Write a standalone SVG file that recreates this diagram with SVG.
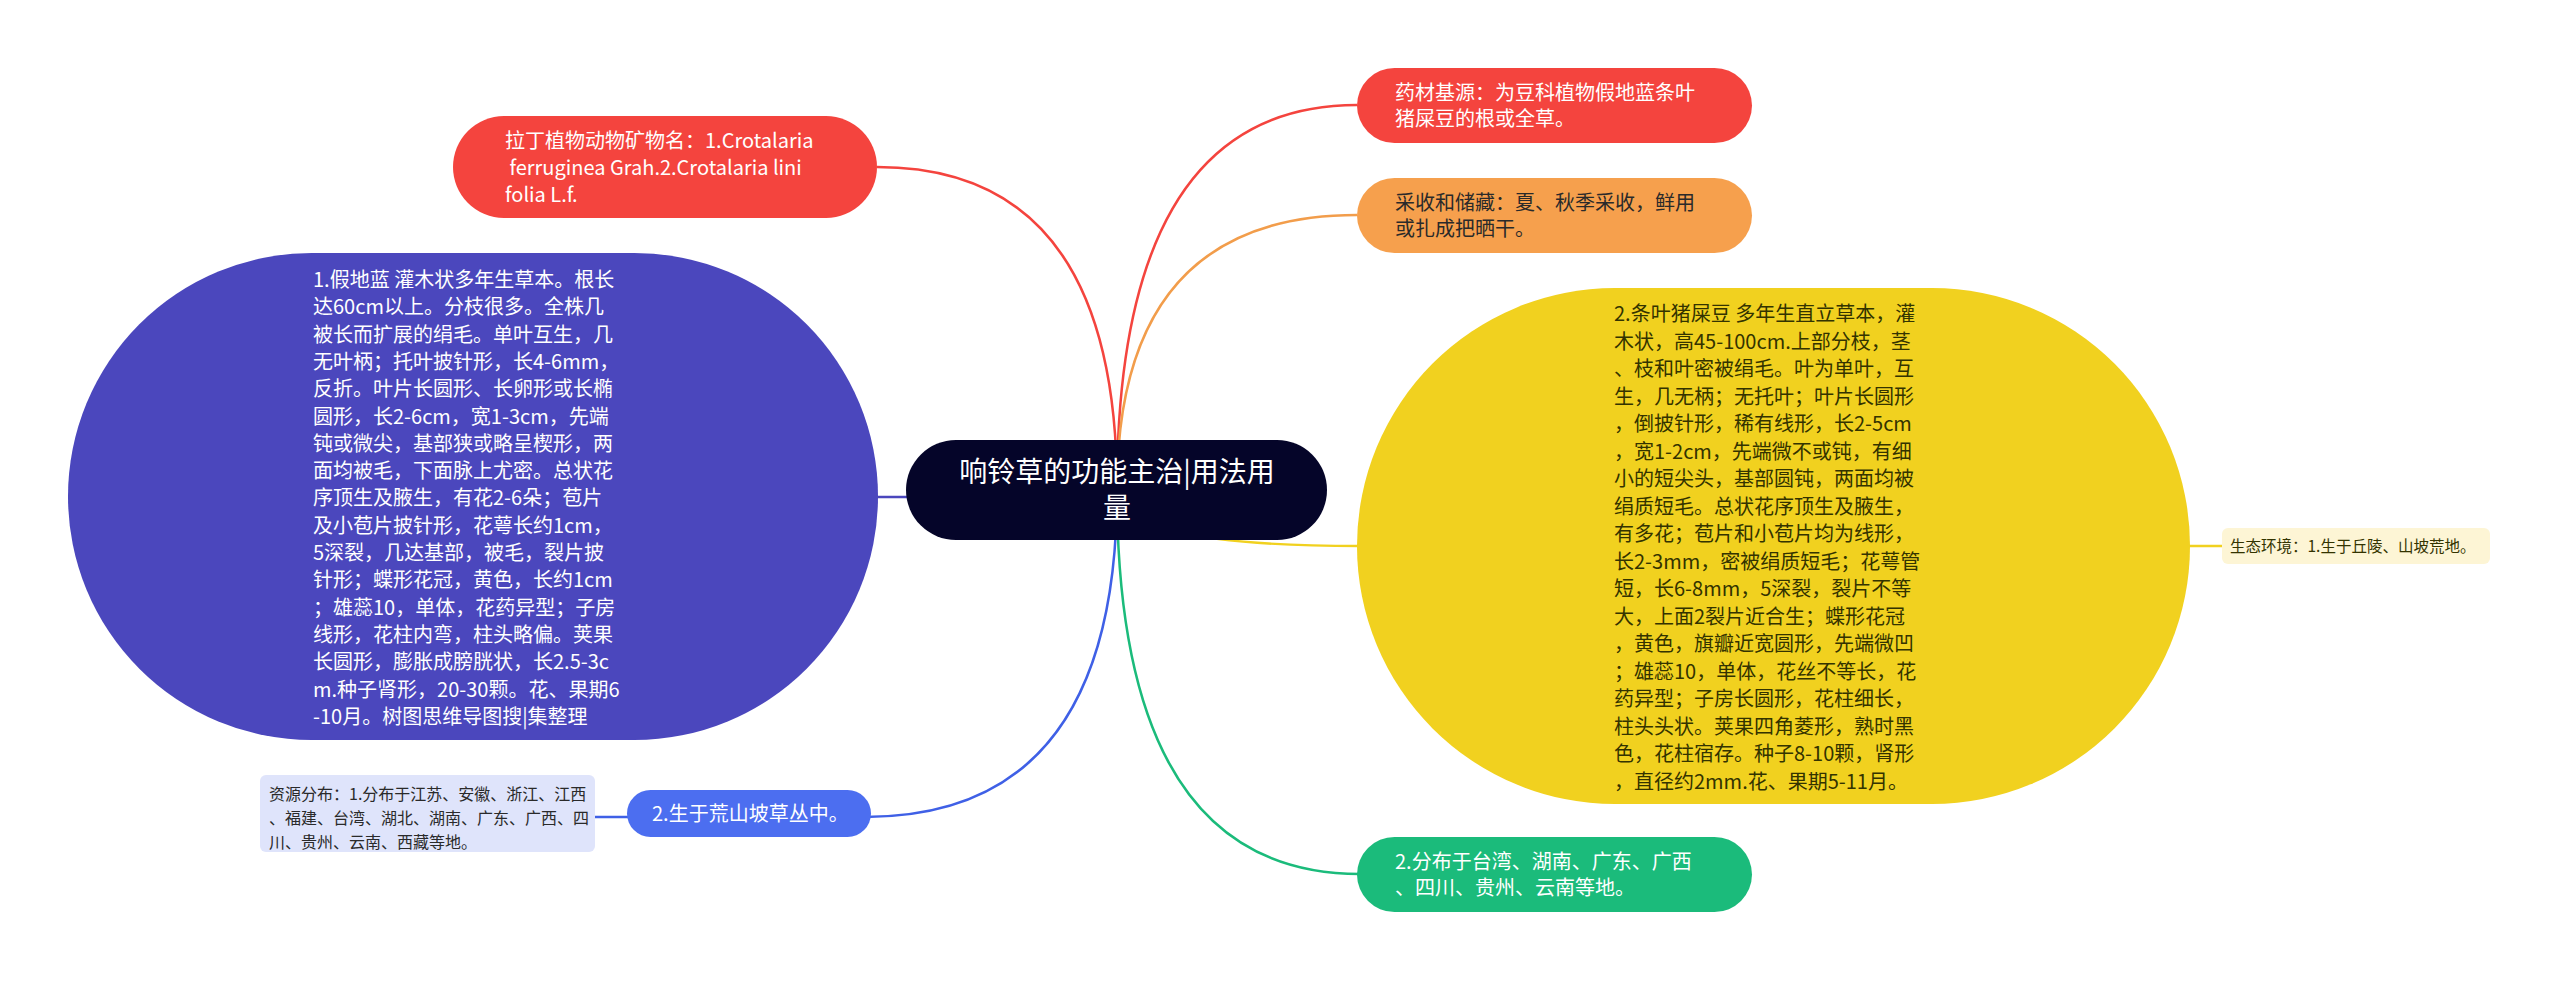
<svg xmlns="http://www.w3.org/2000/svg" width="2560" height="981" viewBox="0 0 2560 981">
<style>
text{font-family:"Noto Sans CJK SC","Noto Sans",sans-serif;}
.t20{font-size:20px;}
.w{fill:#ffffff;}
.d{fill:#2a2a2a;}
.conn{fill:none;stroke-width:2.5;}
</style>
<rect x="0" y="0" width="2560" height="981" fill="#ffffff"/>
<g id="connectors">
<path class="conn" stroke="#f4443e" d="M1117,490 Q1117,167 877,167"/>
<path class="conn" stroke="#f4443e" d="M1117,490 Q1117,105 1357,105"/>
<path class="conn" stroke="#f29d4b" d="M1117,490 Q1117,215 1357,215"/>
<path class="conn" stroke="#4b47bd" d="M1117,497 H870"/>
<path class="conn" stroke="#3f60e6" d="M1117,490 Q1117,817 865,817"/>
<path class="conn" stroke="#1bbb7b" d="M1117,490 Q1117,874 1360,874"/>
<path class="conn" stroke="#f1d11f" d="M1117,490 Q1117,546 1360,546"/>
<path class="conn" stroke="#f1d11f" d="M2185,546 H2222"/>
<path class="conn" stroke="#3f60e6" d="M595,817 H630"/>
</g>
<g id="center">
<rect x="906" y="440" width="421" height="100" rx="50" fill="#050529"/>
<text class="w" font-size="28" text-anchor="middle"><tspan x="1117" y="482">响铃草的功能主治|用法用</tspan><tspan x="1117" y="518">量</tspan></text>
</g>
<g id="n-latin">
<rect x="453" y="116" width="424" height="102" rx="51" fill="#f4443e"/>
<text class="t20 w" xml:space="preserve"><tspan x="505" y="148">拉丁植物动物矿物名：1.Crotalaria</tspan><tspan x="505" y="175"> ferruginea Grah.2.Crotalaria lini</tspan><tspan x="505" y="202">folia L.f.</tspan></text>
</g>
<g id="n-source">
<rect x="1357" y="68" width="395" height="75" rx="37.5" fill="#f4443e"/>
<text class="t20 w"><tspan x="1395" y="100">药材基源：为豆科植物假地蓝条叶</tspan><tspan x="1395" y="126">猪屎豆的根或全草。</tspan></text>
</g>
<g id="n-harvest">
<rect x="1357" y="178" width="395" height="75" rx="37.5" fill="#f6a04d"/>
<text class="t20 d"><tspan x="1395" y="210">采收和储藏：夏、秋季采收，鲜用</tspan><tspan x="1395" y="236">或扎成把晒干。</tspan></text>
</g>
<g id="n-plant1">
<rect x="68" y="253" width="810" height="487" rx="243.5" fill="#4b47bd"/>
<text class="t20 w">
<tspan x="313" y="287">1.假地蓝 灌木状多年生草本。根长</tspan>
<tspan x="313" y="314.3">达60cm以上。分枝很多。全株几</tspan>
<tspan x="313" y="341.6">被长而扩展的绢毛。单叶互生，几</tspan>
<tspan x="313" y="368.9">无叶柄；托叶披针形，长4-6mm，</tspan>
<tspan x="313" y="396.2">反折。叶片长圆形、长卵形或长椭</tspan>
<tspan x="313" y="423.5">圆形，长2-6cm，宽1-3cm，先端</tspan>
<tspan x="313" y="450.8">钝或微尖，基部狭或略呈楔形，两</tspan>
<tspan x="313" y="478.1">面均被毛，下面脉上尤密。总状花</tspan>
<tspan x="313" y="505.4">序顶生及腋生，有花2-6朵；苞片</tspan>
<tspan x="313" y="532.7">及小苞片披针形，花萼长约1cm，</tspan>
<tspan x="313" y="560">5深裂，几达基部，被毛，裂片披</tspan>
<tspan x="313" y="587.3">针形；蝶形花冠，黄色，长约1cm</tspan>
<tspan x="313" y="614.6">；雄蕊10，单体，花药异型；子房</tspan>
<tspan x="313" y="641.9">线形，花柱内弯，柱头略偏。荚果</tspan>
<tspan x="313" y="669.2">长圆形，膨胀成膀胱状，长2.5-3c</tspan>
<tspan x="313" y="696.5">m.种子肾形，20-30颗。花、果期6</tspan>
<tspan x="313" y="723.8">-10月。树图思维导图搜|集整理</tspan>
</text>
</g>
<g id="n-plant2">
<rect x="1357" y="288" width="833" height="516" rx="258" fill="#f1d11f"/>
<text class="t20" fill="#333300">
<tspan x="1614" y="321">2.条叶猪屎豆 多年生直立草本，灌</tspan>
<tspan x="1614" y="348.5">木状，高45-100cm.上部分枝，茎</tspan>
<tspan x="1614" y="376">、枝和叶密被绢毛。叶为单叶，互</tspan>
<tspan x="1614" y="403.5">生，几无柄；无托叶；叶片长圆形</tspan>
<tspan x="1614" y="431">，倒披针形，稀有线形，长2-5cm</tspan>
<tspan x="1614" y="458.5">，宽1-2cm，先端微不或钝，有细</tspan>
<tspan x="1614" y="486">小的短尖头，基部圆钝，两面均被</tspan>
<tspan x="1614" y="513.5">绢质短毛。总状花序顶生及腋生，</tspan>
<tspan x="1614" y="541">有多花；苞片和小苞片均为线形，</tspan>
<tspan x="1614" y="568.5">长2-3mm，密被绢质短毛；花萼管</tspan>
<tspan x="1614" y="596">短，长6-8mm，5深裂，裂片不等</tspan>
<tspan x="1614" y="623.5">大，上面2裂片近合生；蝶形花冠</tspan>
<tspan x="1614" y="651">，黄色，旗瓣近宽圆形，先端微凹</tspan>
<tspan x="1614" y="678.5">；雄蕊10，单体，花丝不等长，花</tspan>
<tspan x="1614" y="706">药异型；子房长圆形，花柱细长，</tspan>
<tspan x="1614" y="733.5">柱头头状。荚果四角菱形，熟时黑</tspan>
<tspan x="1614" y="761">色，花柱宿存。种子8-10颗，肾形</tspan>
<tspan x="1614" y="788.5">，直径约2mm.花、果期5-11月。</tspan>
</text>
</g>
<g id="n-habitat">
<rect x="2222" y="528" width="268" height="36" rx="6" fill="#fdf5d5"/>
<text x="2230" y="552" font-size="15.5" fill="#333300">生态环境：1.生于丘陵、山坡荒地。</text>
</g>
<g id="n-slope">
<rect x="627" y="790" width="244" height="47" rx="23.5" fill="#4c6ef0"/>
<text x="652" y="821" class="t20 w">2.生于荒山坡草丛中。</text>
</g>
<g id="n-distribution">
<rect x="260" y="775" width="335" height="77" rx="6" fill="#dfe4fb"/>
<text font-size="16" fill="#2a2a2a"><tspan x="269" y="800">资源分布：1.分布于江苏、安徽、浙江、江西</tspan><tspan x="269" y="824">、福建、台湾、湖北、湖南、广东、广西、四</tspan><tspan x="269" y="848">川、贵州、云南、西藏等地。</tspan></text>
</g>
<g id="n-region">
<rect x="1357" y="837" width="395" height="75" rx="37.5" fill="#1bbb7b"/>
<text class="t20 w"><tspan x="1395" y="869">2.分布于台湾、湖南、广东、广西</tspan><tspan x="1395" y="895">、四川、贵州、云南等地。</tspan></text>
</g>
</svg>
